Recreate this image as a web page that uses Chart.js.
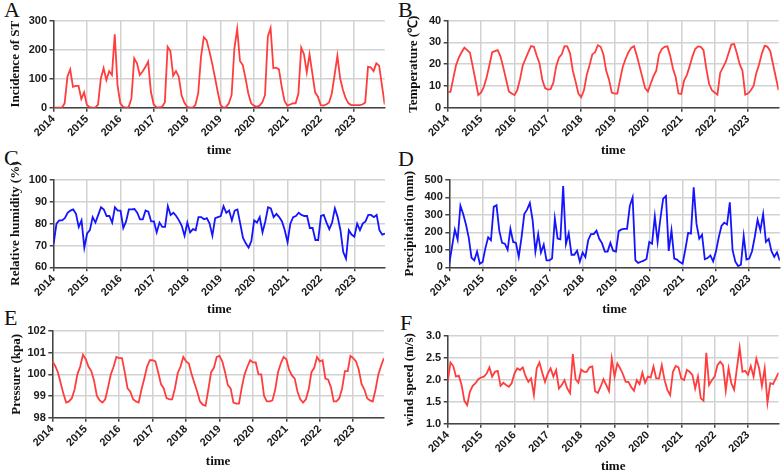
<!DOCTYPE html>
<html><head><meta charset="utf-8">
<script src="https://cdn.jsdelivr.net/npm/chart.js@4"></script>
<style>
html,body{margin:0;padding:0;background:#fff;}
body{width:784px;height:474px;position:relative;overflow:hidden;}
canvas{position:absolute;}
.lab{position:absolute;font-family:'Liberation Serif','Times New Roman',serif;font-size:22px;line-height:22px;color:#111;}
</style></head><body>
<div class="lab" style="left:4px;top:-1px">A</div>
<div class="lab" style="left:398px;top:-1px">B</div>
<div class="lab" style="left:4px;top:147px">C</div>
<div class="lab" style="left:398px;top:148px">D</div>
<div class="lab" style="left:4px;top:307px">E</div>
<div class="lab" style="left:400px;top:312px">F</div>
<canvas id="cA" width="392" height="160" style="left:0px;top:0px"></canvas>
<canvas id="cB" width="392" height="160" style="left:392px;top:0px"></canvas>
<canvas id="cC" width="392" height="165" style="left:0px;top:155px"></canvas>
<canvas id="cD" width="392" height="165" style="left:392px;top:155px"></canvas>
<canvas id="cE" width="392" height="164" style="left:0px;top:310px"></canvas>
<canvas id="cF" width="392" height="164" style="left:392px;top:310px"></canvas>
<script>
// ---- data (monthly, Jan 2014 - Dec 2023) ----
const years = ['2014','2015','2016','2017','2018','2019','2020','2021','2022','2023'];

const incidenceST = [
  0,0,0,0,15,107,132,72,75,75,30,53,
  9,2,0,0,11,101,136,95,126,113,253,78,
  15,3,0,2,32,170,153,113,125,140,159,55,
  11,2,1,3,18,210,195,110,126,107,44,18,
  3,0,0,10,50,175,243,233,195,153,105,55,
  10,0,2,15,44,205,271,161,147,101,49,15,
  7,3,7,18,44,245,275,136,138,132,72,23,
  7,11,15,15,49,207,184,122,184,118,53,38,
  9,7,11,18,49,113,179,101,61,32,15,9,
  9,9,9,11,18,141,139,126,153,145,78,11
];
const temperature = [
  7.3,7.3,13.5,19.5,23,25.5,27.6,26.5,25.3,19,12.5,5.8,
  7,9.5,14,19.5,25.5,26,26.5,23.5,18.5,13,7.5,6.5,
  5.8,8,13,19.5,22.5,25.5,28.3,28,24,20.5,13,9,
  8.3,8.5,11.5,19,23,24.5,28.3,28.2,25,17,12,6.5,
  4.8,8,15,19.5,24.5,25.5,28.7,28,24.5,17,13,7,
  6.5,6.5,13,19,22.5,25.5,27.5,28.3,24,19,14,9,
  7.5,11,14.5,17,24.5,27,28,28.2,24,18,14,6.5,
  6.3,12.5,15,19,23.5,27,28.2,28,26.5,18,11,8,
  7,6,16,18.5,21,25,29,29.3,25,20,17,6,
  6.5,8,10,16,20,25,28.5,28,26,20,14,8
];
const humidity = [
  71,80,81.5,81.5,82.5,85,86,86.5,84.5,78.5,81.5,69,
  75.5,77,83,80.5,84,87.5,86.5,83.5,83.5,80.5,87.5,86,
  86,78,81,86.5,86.5,86.7,85,82,82,86,85.5,81,
  81,76,80.5,78.5,78.5,88,84,85,83.5,81.5,79,74.5,
  80.5,76,77.5,77,83,83,82,82.5,80,74.5,82.5,83,
  83.5,88,85,86,81.5,86,86.5,80,73.5,71,69,72,
  81.5,80.5,83,76,81,87.5,87,83,84.5,83,81,77,
  71.5,80,83,83.5,85,84,83.5,83.5,78,78,72.5,72.5,
  83.5,84,80.5,77.5,80.5,87,83,77,67,64,77,75,
  74,80,77,80,81,84,84,83,84,77,75,75.5
];
const precipitation = [
  21,120,216,159,353,305,245,170,55,40,90,20,
  30,110,172,155,346,355,210,140,135,100,220,145,
  140,60,170,305,330,368,270,90,190,85,130,40,
  40,50,280,165,160,465,133,195,72,72,95,32,
  85,58,155,190,190,210,163,137,90,90,140,95,
  90,207,217,220,220,352,400,40,25,32,38,48,
  145,135,292,145,278,393,408,94,212,50,44,30,
  21,103,197,193,458,250,164,187,46,53,68,34,
  90,170,237,256,245,372,98,32,7,15,180,45,
  50,92,175,272,212,305,145,163,92,60,86,38
];
const pressure = [
  100.6,100.4,100.1,99.6,99.1,98.7,98.75,98.9,99.3,100.0,100.35,100.9,
  100.7,100.35,100.15,99.7,99.0,98.8,98.7,98.85,99.4,100.0,100.35,100.8,
  100.75,100.75,100.1,99.35,99.2,98.85,98.75,98.7,99.3,99.8,100.35,100.65,
  100.65,100.6,100.1,99.55,99.35,98.9,98.85,98.85,99.35,100.05,100.35,100.8,
  100.6,100.5,100.0,99.6,99.2,98.75,98.6,98.55,99.3,100.1,100.3,100.8,
  100.85,100.6,100.1,99.5,99.35,98.7,98.65,98.65,99.4,100.0,100.35,100.65,
  100.55,100.55,100.0,100.0,99.0,98.75,98.75,98.8,99.3,100.1,100.5,100.8,
  100.7,100.2,99.95,99.8,99.2,98.85,98.7,98.85,99.3,100.1,100.3,100.8,
  100.6,100.65,99.8,99.75,99.4,98.75,98.75,98.9,99.35,100.15,100.15,100.85,
  100.75,100.6,100.2,99.55,99.3,98.9,98.8,98.75,99.3,100.0,100.4,100.75
];
const windSpeed = [
  1.95,2.39,2.31,2.07,2.09,1.88,1.52,1.42,1.73,1.86,1.92,2.01,
  2.05,2.07,2.14,2.28,2.07,2.18,2.2,1.86,1.93,1.88,1.84,1.92,
  2.14,2.26,2.22,2.28,2.08,1.95,2.03,1.65,2.26,2.39,2.16,1.95,
  2.14,2.26,2.07,2.22,1.8,1.88,1.99,1.8,1.69,2.58,2.01,1.93,
  2.23,2.18,2.18,2.28,2.3,1.74,1.7,1.84,2.01,1.88,1.74,2.48,
  2.07,2.37,2.26,2.13,1.95,1.95,1.83,1.75,1.99,1.9,2.16,1.93,
  2.07,2.05,2.3,2.03,2.03,2.33,1.99,1.77,1.65,2.18,2.31,2.28,
  2.03,1.99,2.22,2.18,2.11,1.8,2.07,1.58,1.52,2.61,1.88,1.99,
  2.07,2.33,2.41,2.33,1.75,2.26,1.92,1.77,2.26,2.73,2.18,2.2,
  2.11,2.31,2.07,2.48,2.26,1.86,2.26,1.48,1.92,1.9,2.03,2.16
];

const ticksA = [0,100,200,300];
const ticksB = [0,10,20,30,40];
const ticksC = [60,70,80,90,100];
const ticksD = [0,100,200,300,400,500];
const ticksE = [98,99,100,101,102];
const ticksF = [1.0,1.5,2.0,2.5,3.0];

const RED = '#ff3d3d';
const BLUE = '#1414ff';
const GRID = '#d2d2d2';
const tickFont = {family:"'Liberation Sans', Arial, sans-serif", weight:'bold', size:11};
const titleFont = {family:"'Liberation Serif', 'Times New Roman', serif", weight:'bold', size:13, lineHeight:1.2};

function makePanel(id, values, color, yTicks, yTitle, g, decimals) {
  const canvas = document.getElementById(id);
  const W = canvas.width, H = canvas.height;
  const pts = values.map((v,i)=>({x:i, y:v}));
  new Chart(canvas, {
    type:'line',
    data:{datasets:[{data:pts, borderColor:color, borderWidth:1.8, pointRadius:0, tension:0, fill:false}]},
    options:{
      responsive:false, animation:false, devicePixelRatio:1,
      plugins:{legend:{display:false}, tooltip:{enabled:false}},
      layout:{padding:{top:g.top, right:W-g.right, left:0, bottom:0}},
      scales:{
        x:{type:'linear', min:0, max:values.length-1,
           ticks:{stepSize:12, includeBounds:false, callback:(v)=>years[Math.round(v/12)], font:tickFont, color:'#1a1a1a', minRotation:45, maxRotation:45, padding:1, autoSkip:false},
           afterFit:(s)=>{ s.height = H - g.bottom; },
           grid:{display:true, drawOnChartArea:true, drawTicks:true, color:GRID, lineWidth:1.5, tickColor:'#444', tickLength:4},
           border:{display:true, color:'#444', width:1.5},
           title:{display:true, text:'time', font:titleFont, color:'#111', padding:{top:0,bottom:g.xTitlePad}}
        },
        y:{type:'linear', min:yTicks[0], max:yTicks[yTicks.length-1],
           ticks:{stepSize:yTicks[1]-yTicks[0], callback:(v)=>decimals? Number(v).toFixed(decimals) : String(v), font:tickFont, color:'#1a1a1a', padding:2.5},
           afterFit:(s)=>{ s.width = g.left; },
           grid:{display:true, drawOnChartArea:true, drawTicks:true, color:GRID, lineWidth:1.5, tickColor:'#444', tickLength:4},
           border:{display:true, color:'#444', width:1.5},
           title:{display:true, text:yTitle, font:titleFont, color:'#111', padding:{top:g.yTitlePad,bottom:0}}
        }
      }
    }
  });
}

makePanel('cA', incidenceST, RED, ticksA, 'Incidence of ST', {left:53.5, right:384.7, top:20.7, bottom:107.7, xTitlePad:1.2, yTitlePad:8.2}, 0);
makePanel('cB', temperature, RED, ticksB, 'Temperature (℃)', {left:55.7, right:386.6, top:20.7, bottom:107.7, xTitlePad:1.2, yTitlePad:13.9}, 0);
makePanel('cC', humidity, BLUE, ticksC, 'Relative humidity (%)', {left:53.7, right:385, top:25, bottom:112.3, xTitlePad:2.2, yTitlePad:8.2}, 0);
makePanel('cD', precipitation, BLUE, ticksD, 'Precipitation (mm)', {left:57.3, right:387.8, top:25, bottom:112.3, xTitlePad:2.2, yTitlePad:10.2}, 0);
makePanel('cE', pressure, RED, ticksE, 'Pressure (kpa)', {left:52.3, right:383.9, top:21, bottom:107.7, xTitlePad:4.2, yTitlePad:8.9}, 0);
makePanel('cF', windSpeed, RED, ticksF, 'wind speed (m/s)', {left:55.7, right:386.6, top:25.7, bottom:113.7, xTitlePad:0, yTitlePad:9.9}, 1);
</script>
</body></html>
